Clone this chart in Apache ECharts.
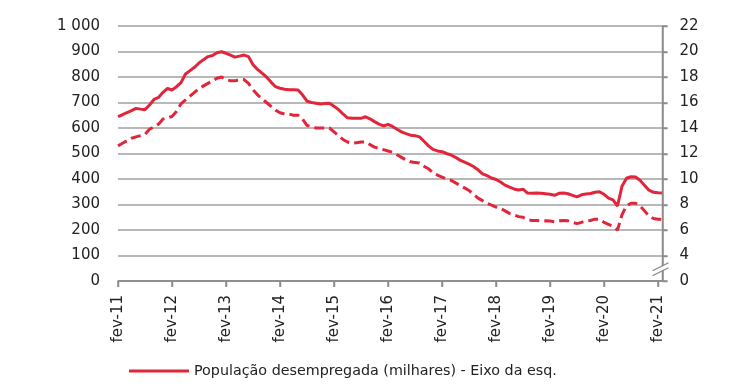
<!DOCTYPE html>
<html><head><meta charset="utf-8">
<script src="https://cdn.jsdelivr.net/npm/echarts@6/dist/echarts.min.js"></script>
<style>html,body{margin:0;padding:0;background:#fff}#c{width:740px;height:389px}</style>
</head><body><div id="c"></div>
<script>
// Months (Portuguese abbreviations) from fev-11 to mar-21
const monthNames = ['jan','fev','mar','abr','mai','jun','jul','ago','set','out','nov','dez'];
const categories = [];
for (let k = 0; k < 122; k++) {
  const m = (1 + k) % 12;
  const y = 11 + Math.floor((1 + k) / 12);
  categories.push(monthNames[m] + '-' + y);
}
// Unemployed population (thousands) - left axis
const unemployed = [
  645,652,660,668,677,674,672,690,712,720,740,755,
  749,762,778,812,825,838,855,868,880,884,895,899,
  893,886,878,882,886,880,848,830,815,800,780,762,
  756,752,750,750,749,730,705,700,697,694,696,697,
  685,672,655,640,638,638,638,644,636,625,615,608,
  614,606,595,585,578,572,570,565,548,530,516,510,
  507,500,494,485,474,466,458,449,436,420,413,404,
  398,388,376,368,361,357,360,345,344,345,344,342,
  340,336,344,345,342,336,330,338,341,343,348,350,
  340,325,318,294,372,403,409,408,395,375,356,348,
  346,345
];
// Unemployment rate (%) - right axis
const rate = [
  12.6,12.8,13.0,13.2,13.3,13.4,13.5,13.9,14.1,14.3,14.7,14.8,
  14.9,15.3,15.9,16.2,16.5,16.8,17.1,17.3,17.5,17.7,17.9,18.0,
  17.8,17.7,17.7,17.8,17.8,17.5,17.0,16.6,16.3,16.0,15.7,15.4,
  15.2,15.1,15.1,15.0,15.0,14.7,14.2,14.1,14.0,14.0,14.0,14.0,
  13.7,13.4,13.1,12.9,12.8,12.85,12.9,12.9,12.7,12.5,12.4,12.3,
  12.2,12.1,11.9,11.7,11.5,11.35,11.3,11.25,11.0,10.8,10.5,10.3,
  10.15,10.0,9.9,9.7,9.5,9.3,9.1,8.8,8.5,8.3,8.1,7.95,
  7.8,7.7,7.5,7.3,7.2,7.05,7.0,6.8,6.75,6.75,6.7,6.72,
  6.7,6.65,6.72,6.75,6.72,6.6,6.5,6.6,6.7,6.75,6.85,6.85,
  6.6,6.45,6.3,6.0,7.2,7.9,8.1,8.1,7.9,7.5,7.1,6.9,
  6.85,6.85
];
const leftTicks = {min: 0, max: 1000, interval: 100};
const rightTicks = {min: 2, max: 22, interval: 2};
const seriesName = 'População desempregada (milhares) - Eixo da esq.';

const RED = '#E1253A';
const GRID = '#a0a0a0';
const AXIS = '#8c8c8c';
const TXT = '#222';
const FONT = 'DejaVu Sans';

const chart = echarts.init(document.getElementById('c'), null, {renderer: 'canvas'});
chart.setOption({
  animation: false,
  textStyle: {fontFamily: FONT},
  grid: {left: 118, right: 77.5, top: 26, bottom: 108, containLabel: false},
  legend: {
    data: [seriesName], left: 129, top: 364, padding: 0,
    itemWidth: 60, itemHeight: 14, itemGap: 7,
    icon: 'path://M0,6 L60,6 L60,9 L0,9 Z',
    textStyle: {fontFamily: FONT, fontSize: 14.3, color: TXT}
  },
  xAxis: {
    type: 'category', data: categories, boundaryGap: false,
    axisLine: {show: true, lineStyle: {color: AXIS, width: 1.5}},
    axisTick: {show: true, interval: 11, length: 6, lineStyle: {color: AXIS, width: 1.5}},
    axisLabel: {interval: 11, rotate: 90, margin: 14, fontFamily: FONT, fontSize: 15, color: TXT},
    splitLine: {show: false}
  },
  yAxis: [{
    type: 'value', min: leftTicks.min, max: leftTicks.max, interval: leftTicks.interval,
    axisLine: {show: false}, axisTick: {show: false},
    axisLabel: {margin: 18, fontFamily: FONT, fontSize: 15, color: TXT,
      formatter: v => v >= 1000 ? Math.floor(v/1000) + ' ' + String(v % 1000).padStart(3,'0') : String(v)},
    splitLine: {show: true, lineStyle: {color: GRID, width: 1.5}}
  }, {
    type: 'value', position: 'right', min: rightTicks.min, max: rightTicks.max, interval: rightTicks.interval,
    axisLine: {show: true, onZero: false, lineStyle: {color: AXIS, width: 1.5}},
    axisTick: {show: true, length: 5, lineStyle: {color: AXIS, width: 1.5}},
    axisLabel: {margin: 17, fontFamily: FONT, fontSize: 15, color: TXT,
      formatter: v => v === 2 ? '0' : String(v)},
    splitLine: {show: false}
  }],
  series: [{
    name: seriesName, type: 'line', data: unemployed, yAxisIndex: 0,
    symbol: 'none', smooth: false,
    lineStyle: {color: RED, width: 3}, itemStyle: {color: RED}, z: 3
  }, {
    name: 'Taxa de desemprego (%) - Eixo da dir.', type: 'line', data: rate, yAxisIndex: 1,
    symbol: 'none', smooth: false,
    lineStyle: {color: RED, width: 3, type: [10, 5]}, itemStyle: {color: RED}, z: 3
  }]
});

// Axis line/ticks drawn from the library's own scales, plus the axis-break marker
const g = [];
const ax = chart.convertToPixel({xAxisIndex: 0}, categories.length - 1);
const yTop = chart.convertToPixel({yAxisIndex: 1}, rightTicks.max);
const yBot = chart.convertToPixel({yAxisIndex: 1}, rightTicks.min);
const lineSty = {stroke: AXIS, lineWidth: 1.5};
g.push({type: 'line', z: 9, shape: {x1: ax, y1: yTop, x2: ax, y2: yBot}, style: lineSty});
for (let v = rightTicks.min; v <= rightTicks.max; v += rightTicks.interval) {
  const yy = Math.round(chart.convertToPixel({yAxisIndex: 1}, v)) + 0.5;
  g.push({type: 'line', z: 9, shape: {x1: ax, y1: yy, x2: ax + 5, y2: yy}, style: lineSty});
}
const x0 = chart.convertToPixel({xAxisIndex: 0}, 0);
g.push({type: 'line', z: 9, shape: {x1: x0, y1: yBot, x2: ax, y2: yBot}, style: lineSty});
for (let k = 0; k < categories.length; k += 12) {
  const xx = Math.round(chart.convertToPixel({xAxisIndex: 0}, k)) + 0.5;
  g.push({type: 'line', z: 9, shape: {x1: xx, y1: yBot, x2: xx, y2: yBot + 6}, style: lineSty});
}
const py = chart.convertToPixel({yAxisIndex: 1}, 3);
g.push({type: 'polygon', z: 10, shape: {points: [[ax-10, py+3],[ax+6, py-5],[ax+6, py-1],[ax-10, py+7]]}, style: {fill: '#fff'}});
g.push({type: 'line', z: 11, shape: {x1: ax-10, y1: py+2.5, x2: ax+6, y2: py-5.5}, style: {stroke: '#888', lineWidth: 1.3}});
g.push({type: 'line', z: 11, shape: {x1: ax-10, y1: py+7.5, x2: ax+6, y2: py-0.5}, style: {stroke: '#888', lineWidth: 1.3}});
chart.setOption({graphic: g});
</script>
</body></html>
